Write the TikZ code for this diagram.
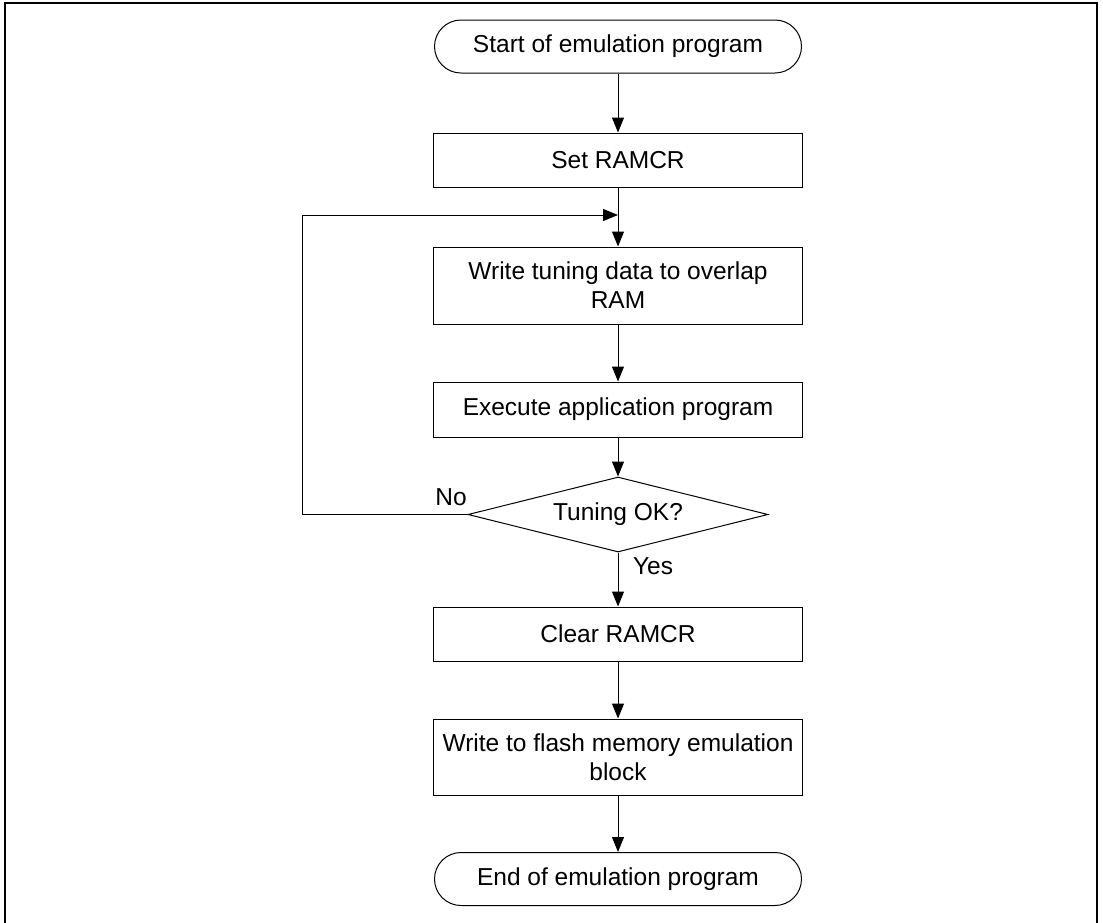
\documentclass[tikz,border=0pt]{standalone}
\usepackage{fontspec}
\setmainfont{Liberation Sans}
\usetikzlibrary{shapes.geometric,arrows.meta}
\begin{document}
\begin{tikzpicture}[x=1pt,y=-1pt,
  every node/.style={font=\fontsize{24.5}{29}\selectfont},
  procbox/.style={draw, line width=1pt, rectangle, minimum width=369pt, inner sep=0pt, align=center},
  termbox/.style={draw, line width=1pt, rectangle, rounded corners=26.5pt, minimum width=367pt, minimum height=53pt, inner sep=0pt},
  decbox/.style={draw, line width=1pt, diamond, aspect=4, minimum width=300pt, minimum height=75pt, inner sep=0pt},
  flow/.style={line width=1pt, -{Triangle[length=15pt,width=12pt]}},
  lbl/.style={inner sep=0pt}
]
\useasboundingbox (0,0) rectangle (1103,922);
\draw[line width=2pt] (5,3) rectangle (1097,930);

\node[termbox] (start) at (618,46.5) {Start of emulation program};
\node[procbox, minimum height=54pt] (set) at (618,160) {Set RAMCR};
\node[procbox, minimum height=77pt] (write) at (618,285.5) {Write tuning data to overlap\\RAM};
\node[procbox, minimum height=55pt] (exec) at (618,409.5) {Execute application program};
\node[decbox] (dec) at (618,514.5) {Tuning OK?};
\node[procbox, minimum height=54pt] (clear) at (618,634) {Clear RAMCR};
\node[procbox, minimum height=76pt] (flash) at (618,757) {Write to flash memory emulation\\block};
\node[termbox] (end) at (618,879) {End of emulation program};

\coordinate (join) at (618,215);
\coordinate (lc1) at (302,514.5);
\coordinate (lc2) at (302,215);

\draw[flow] (start) -- (set);
\draw[flow] (set) -- (write);
\draw[flow] (write) -- (exec);
\draw[flow] (exec) -- (dec);
\draw[flow] (dec) -- (clear);
\draw[flow] (clear) -- (flash);
\draw[flow] (flash) -- (end);
\draw[flow] (dec.west) -- (lc1) -- (lc2) -- (join);

\node[lbl] (no) at (451,497) {No};
\node[lbl] (yes) at (653,566) {Yes};
\end{tikzpicture}
\end{document}
